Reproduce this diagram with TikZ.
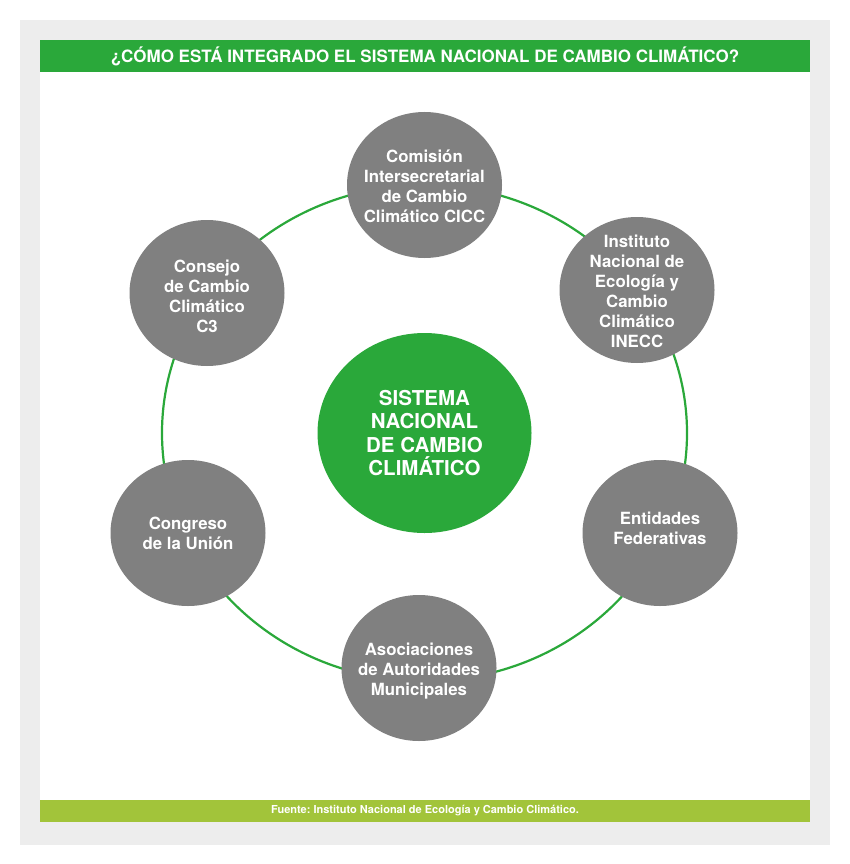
\documentclass[tikz,border=0pt]{standalone}
\usepackage{fontspec}
\setmainfont{TeX Gyre Heros}
\frenchspacing
\usetikzlibrary{shapes.geometric}
\definecolor{bggray}{HTML}{EDEDED}
\definecolor{mgreen}{HTML}{2AA83A}
\definecolor{cgray}{HTML}{808080}
\definecolor{lime}{HTML}{A2C43A}
\begin{document}
\begin{tikzpicture}[x=1pt,y=-1pt,
  sat/.style={ellipse, fill=cgray, minimum width=155pt, minimum height=146pt, inner sep=0pt},
  core/.style={ellipse, fill=mgreen, minimum width=214pt, minimum height=200pt, inner sep=0pt},
  sattext/.style={text=white, font=\fontsize{16.8}{20}\selectfont\bfseries, align=center, inner sep=0pt},
  coretext/.style={text=white, font=\fontsize{20.5}{23.5}\selectfont\bfseries, align=center, inner sep=0pt},
  ring/.style={draw=mgreen, line width=2.2pt},
  bar/.style={inner sep=0pt, outer sep=0pt}]
\useasboundingbox (0,0) rectangle (850,864);
% frame
\fill[bggray] (20,20) rectangle (830,845);
\fill[white] (40,40) rectangle (810,822);
\node[bar, fill=mgreen, minimum width=770pt, minimum height=32pt] (title) at (425,56) {};
\node[text=white, font=\fontsize{17}{20}\selectfont\bfseries, inner sep=0pt] (titletext) at (title.center) {¿CÓMO ESTÁ INTEGRADO EL SISTEMA NACIONAL DE CAMBIO CLIMÁTICO?};
\node[bar, fill=lime, minimum width=770pt, minimum height=22pt] (foot) at (425,811) {};
\node[text=white, font=\fontsize{11}{13}\selectfont\bfseries, inner sep=0pt] (foottext) at (foot.center) {Fuente: Instituto Nacional de Ecología y Cambio Climático.};
% centre and ring
\coordinate (mid) at (424.5,433);
\draw[ring] (mid) ellipse [x radius=262.5pt, y radius=248pt];
\node[core] (core) at (mid) {};
\node[coretext] (coret) at (core.center) {SISTEMA\\NACIONAL\\DE CAMBIO\\CLIMÁTICO};
% satellites
\node[sat] (cicc) at (424.5,185) {};
\node[sattext] (ciccT) at ([yshift=-1pt]cicc.center) {Comisión\\Intersecretarial\\de Cambio\\Climático CICC};
\node[sat] (inecc) at (637,290) {};
\node[sattext] (ineccT) at ([yshift=-1.5pt]inecc.center) {Instituto\\Nacional de\\Ecología y\\Cambio\\Climático\\INECC};
\node[sat] (ent) at (660,533) {};
\node[sattext] (entT) at ([yshift=5pt]ent.center) {Entidades\\Federativas};
\node[sat] (asoc) at (419,668) {};
\node[sattext] (asocT) at ([yshift=-3pt]asoc.center) {Asociaciones\\de Autoridades\\Municipales};
\node[sat] (cong) at (188,533) {};
\node[sattext] (congT) at (cong.center) {Congreso\\de la Unión};
\node[sat] (c3) at (207,293) {};
\node[sattext] (c3T) at ([yshift=-3pt]c3.center) {Consejo\\de Cambio\\Climático\\C3};
\end{tikzpicture}
\end{document}
